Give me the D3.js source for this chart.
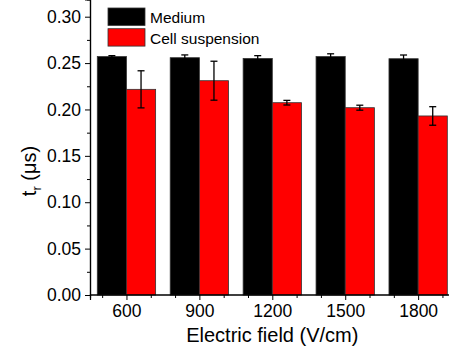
<!DOCTYPE html>
<html>
<head>
<meta charset="utf-8">
<script src="https://cdn.jsdelivr.net/npm/d3@7"></script>
<style>
  body { margin: 0; background: #fff; }
  text { font-family: "Liberation Sans", Arial, sans-serif; fill: #000; }
</style>
</head>
<body>
<div id="chart"></div>
<script>
// Electric field categories (V/cm)
const fields = [600, 900, 1200, 1500, 1800];
const seriesNames = ['Medium', 'Cell suspension'];
const mediumVals = [0.257, 0.2558, 0.255, 0.257, 0.2547];
const mediumErr = [0.001, 0.003, 0.003, 0.003, 0.004];
const cellVals = [0.2217, 0.231, 0.2073, 0.2019, 0.193];
const cellErr = [0.020, 0.021, 0.0025, 0.0027, 0.010];
const yTicks = [0, 0.05, 0.10, 0.15, 0.20, 0.25, 0.30];

const width = 449, height = 351;
const colors = ['#000000', '#ff0000'];

const svg = d3.select('#chart').append('svg')
  .attr('width', width).attr('height', height);

// Scales: x is numeric (like the original Origin axis)
const x = d3.scaleLinear().domain([450, 1950]).range([90, 454.6]);
const y = d3.scaleLinear().domain([0, 0.30]).range([295, 16.7]);
const barW = 120; // in x units

const series = [
  { name: seriesNames[0], vals: mediumVals, err: mediumErr, off: -barW },
  { name: seriesNames[1], vals: cellVals, err: cellErr, off: 0 }
];

// Bars
series.forEach((s, i) => {
  const g = svg.append('g');
  g.selectAll('rect')
    .data(fields)
    .enter()
    .append('rect')
    .attr('x', (d) => x(d + s.off))
    .attr('width', x(barW) - x(0))
    .attr('y', (d, j) => y(s.vals[j]))
    .attr('height', (d, j) => y(0) - y(s.vals[j]))
    .attr('fill', colors[i])
    .attr('stroke', '#333')
    .attr('stroke-width', 0.8);

  // Error bars
  const eb = g.selectAll('.eb')
    .data(fields)
    .enter()
    .append('g')
    .attr('class', 'eb')
    .attr('transform', (d) => `translate(${x(d + s.off + barW / 2)},0)`);
  eb.append('line')
    .attr('y1', (d, j) => y(s.vals[j] + s.err[j]))
    .attr('y2', (d, j) => y(s.vals[j] - s.err[j]))
    .attr('stroke', '#000').attr('stroke-width', 1.3);
  [1, -1].forEach((sign) => {
    eb.append('line')
      .attr('x1', -3.5).attr('x2', 3.5)
      .attr('y1', (d, j) => y(s.vals[j] + sign * s.err[j]))
      .attr('y2', (d, j) => y(s.vals[j] + sign * s.err[j]))
      .attr('stroke', '#000').attr('stroke-width', 1.3);
  });
});

// Y axis
const yAxis = svg.append('g').attr('transform', `translate(${x(450)},0)`);
yAxis.call(d3.axisLeft(y).tickValues(yTicks).tickFormat(d3.format('.2f')).tickSize(5).tickPadding(4));
yAxis.append('g').call(d3.axisLeft(y).tickValues(d3.range(0.025, 0.30, 0.05)).tickSize(3).tickFormat(''));
yAxis.selectAll('.domain').attr('stroke-width', 1.2);
yAxis.selectAll('text').attr('font-size', '17.5px');

// X axis
const xAxis = svg.append('g').attr('transform', `translate(0,${y(0)})`);
xAxis.call(d3.axisBottom(x).tickValues(fields).tickFormat(d3.format('d')).tickSize(5).tickPadding(5));
xAxis.append('g').call(d3.axisBottom(x)
  .tickValues(d3.range(500, 1950, 100).filter((v) => !fields.includes(v)))
  .tickSize(3).tickFormat(''));
xAxis.selectAll('.domain').attr('stroke-width', 1.2);
xAxis.selectAll('text').attr('font-size', '17.5px');
svg.selectAll('.domain').attr('d', function () { return d3.select(this).attr('d').replace(/V[-\d.]+H/, 'V0H'); });
svg.selectAll('.tick line').attr('stroke-width', 1);

// Axis titles
svg.append('text')
  .attr('x', (x(450) + x(1950)) / 2)
  .attr('y', 342)
  .attr('text-anchor', 'middle')
  .attr('font-size', '20px')
  .text('Electric field (V/cm)');

const yl = svg.append('text')
  .attr('transform', 'translate(36,171) rotate(-90)')
  .attr('text-anchor', 'middle')
  .attr('font-size', '20px');
yl.append('tspan').text('t');
yl.append('tspan').attr('font-size', '13px').attr('dy', 5).text('r');
yl.append('tspan').attr('dy', -5).text(' (\u03bcs)');

// Legend
const legend = svg.append('g').attr('transform', 'translate(108,8)');
seriesNames.forEach((name, i) => {
  const row = legend.append('g').attr('transform', `translate(0,${i * 20.7})`);
  row.append('rect')
    .attr('width', 37).attr('height', 17.4)
    .attr('fill', colors[i]).attr('stroke', '#333').attr('stroke-width', 0.8);
  row.append('text')
    .attr('x', 42).attr('y', 15)
    .attr('font-size', '15.5px')
    .text(name);
});
</script>
</body>
</html>
